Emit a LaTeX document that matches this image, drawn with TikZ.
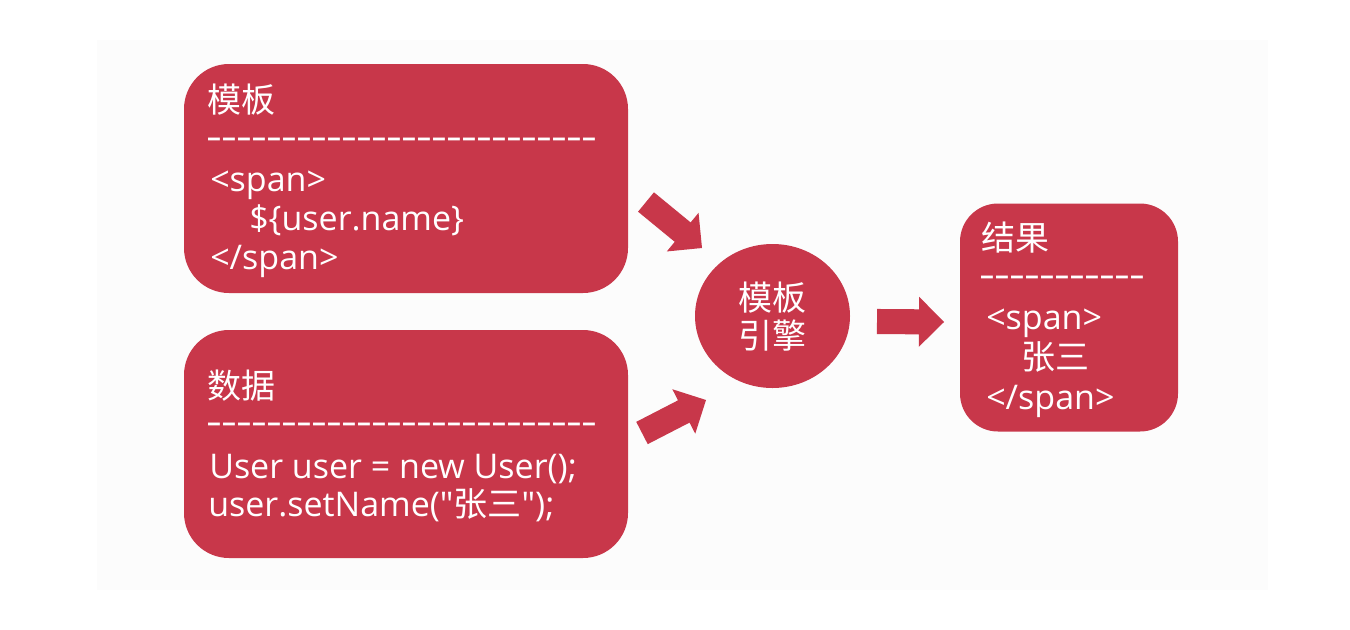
\documentclass[tikz,border=0pt]{standalone}
\usepackage{fontspec}
\usepackage{graphicx}
\setmainfont{Open Sans}
\newfontfamily\qf{Open Sans}
\newfontfamily\cjk{Noto Sans CJK SC}
\usetikzlibrary{calc,shapes.geometric}
\definecolor{boxred}{HTML}{C8374A}
\definecolor{panel}{HTML}{FCFCFC}
\ExplSyntaxOn
\cs_new:Npn \dashrow #1 {\prg_replicate:nn{#1}{\makebox[11.25pt]{\scalebox{1.45}[1.1]{-}}}}
\ExplSyntaxOff
\newcommand\blockarrow[2]{%
  \coordinate (#1h) at ($(#2)!18.75pt!(#1)$);
  \fill[boxred] ($(#1)!9.4pt!90:(#2)$) -- ($(#1h)!9.4pt!-90:(#1)$)
    -- ($(#1h)!18.75pt!-90:(#1)$) -- (#2) -- ($(#1h)!18.75pt!90:(#1)$)
    -- ($(#1h)!9.4pt!90:(#1)$) -- ($(#1)!9.4pt!-90:(#2)$) -- cycle;}
\tikzset{
  panelbox/.style={rectangle, fill=boxred, draw=none, inner sep=0pt, rounded corners=#1},
  engine/.style={ellipse, fill=boxred, draw=none, inner sep=0pt,
    minimum width=116.25pt, minimum height=108pt},
  txt/.style={text=white, inner sep=0pt, anchor=base west,
    font=\fontsize{25.5}{30}\selectfont},
  ctxt/.style={txt, anchor=base},
}
\begin{document}
\begin{tikzpicture}[x=0.75pt,y=-0.75pt]
\useasboundingbox (0,0) rectangle (1350,629);
\fill[panel] (97,40) rectangle (1268,590);
% boxes
\node[panelbox=33.75pt, minimum width=333pt, minimum height=171.75pt] (tpl) at (406,178.5) {};
\node[panelbox=33.75pt, minimum width=333pt, minimum height=171pt] (data) at (406,444) {};
\node[panelbox=28.5pt, minimum width=163.5pt, minimum height=171pt] (res) at (1069,317.5) {};
\node[engine] (eng) at (772.5,316) {};
% template box text
\node[txt] (tplh) at (207,112) {\cjk 模板};
\node[txt] (tpld) at (206.5,149) {\dashrow{26}};
\node[txt] (tpla) at (210,191) {<span>};
\node[txt] (tplb) at (249,230) {\$\{user.name\}};
\node[txt] (tplc) at (210,269) {</span>};
% data box text
\node[txt] (datah) at (207,398) {\cjk 数据};
\node[txt] (datad) at (206.5,434) {\dashrow{26}};
\node[txt] (dataa) at (209,478) {User user = new User();};
\node[txt] (datab) at (208,516) {user.setName({\qf"}{\cjk 张三}{\qf"});};
% engine text
\node[ctxt] (enga) at (772.5,310) {\cjk 模板};
\node[ctxt] (engb) at (772.5,348) {\cjk 引擎};
% result box text
\node[txt] (resh) at (981,250) {\cjk 结果};
\node[txt] (resd) at (980,287) {\dashrow{11}};
\node[txt] (resa) at (986,329) {<span>};
\node[txt] (resb) at (1021,369) {\cjk 张三};
\node[txt] (resc) at (986,409) {</span>};
% arrows
\coordinate (a1s) at (646,202); \coordinate (a1e) at (702,248);
\coordinate (a2s) at (642,433); \coordinate (a2e) at (706,400);
\coordinate (a3s) at (877,321.5); \coordinate (a3e) at (944,322);
\blockarrow{a1s}{a1e}
\blockarrow{a2s}{a2e}
\blockarrow{a3s}{a3e}
\end{tikzpicture}
\end{document}
